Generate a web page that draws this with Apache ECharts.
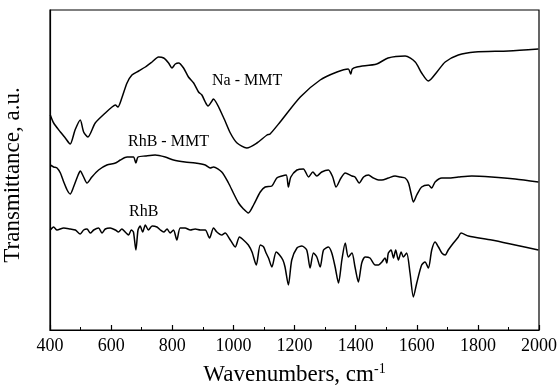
<!DOCTYPE html>
<html>
<head>
<meta charset="utf-8">
<script src="https://cdn.jsdelivr.net/npm/echarts@6/dist/echarts.min.js"></script>
<style>
  html, body { margin: 0; padding: 0; background: #fff; }
  #chart { width: 558px; height: 386px; }
</style>
</head>
<body>
<div id="chart"></div>
<script>
// wavenumber ticks
const xTicks = [400, 600, 800, 1000, 1200, 1400, 1600, 1800, 2000];

// Na - MMT (wavenumber, transmittance a.u.)
const naWn = [401, 412, 434, 450, 466, 482, 499, 510, 524, 548, 581, 603, 614, 622, 635, 652, 668, 690, 712, 734, 755, 772, 788, 799, 810, 821, 837, 853, 870, 886, 897, 908, 917, 930, 934, 967, 990, 1012, 1044, 1077, 1110, 1120, 1153, 1219, 1284, 1339, 1376, 1384, 1389, 1404, 1469, 1506, 1562, 1595, 1616, 1638, 1666, 1693, 1736, 1791, 1900, 1998];
const naT = [215, 207, 198, 192, 186, 200, 210, 198, 193, 207, 217, 223, 225, 223, 232, 247, 255, 259, 263, 268, 273, 272, 267, 262, 266, 267, 262, 253, 247, 238, 235, 228, 224, 229, 231, 213, 197, 187, 182, 187, 195, 196, 208, 233, 250, 258, 261, 256, 261, 263, 266, 272, 274, 268, 257, 249, 258, 268, 275, 278, 279, 281];

// RhB - MMT
const rmWn = [401, 412, 423, 434, 445, 456, 466, 477, 492, 499, 510, 521, 537, 559, 586, 614, 630, 652, 673, 681, 688, 712, 744, 777, 804, 842, 875, 908, 924, 935, 962, 984, 1000, 1017, 1033, 1049, 1066, 1088, 1104, 1126, 1142, 1159, 1173, 1180, 1188, 1208, 1229, 1246, 1260, 1273, 1289, 1311, 1325, 1336, 1352, 1366, 1388, 1398, 1412, 1426, 1442, 1458, 1475, 1486, 1507, 1529, 1546, 1562, 1573, 1581, 1589, 1600, 1616, 1638, 1649, 1660, 1682, 1703, 1736, 1780, 1845, 1922, 1998];
const rmT = [165, 163, 162, 157, 148, 140, 136, 143, 155, 159, 153, 147, 153, 160, 165, 167, 170, 173, 173, 167, 173, 174, 175, 173, 170, 168, 167, 165, 162, 163, 158, 147, 137, 127, 121, 117, 125, 138, 143, 144, 152, 154, 155, 143, 153, 160, 161, 153, 158, 154, 158, 160, 153, 143, 152, 157, 154, 153, 147, 153, 155, 152, 150, 150, 152, 154, 153, 152, 147, 137, 128, 135, 143, 145, 142, 148, 152, 152, 153, 154, 153, 151, 148];

// RhB
const rhWn = [401, 412, 423, 445, 466, 483, 499, 510, 521, 532, 543, 559, 570, 581, 597, 614, 624, 635, 646, 657, 666, 673, 681, 688, 695, 703, 712, 722, 734, 750, 761, 772, 783, 793, 804, 815, 826, 842, 859, 875, 892, 908, 922, 935, 946, 962, 973, 990, 1006, 1020, 1033, 1049, 1061, 1075, 1088, 1099, 1107, 1115, 1126, 1140, 1151, 1162, 1169, 1180, 1191, 1208, 1224, 1240, 1251, 1262, 1273, 1284, 1295, 1311, 1322, 1333, 1344, 1355, 1366, 1376, 1388, 1398, 1409, 1420, 1431, 1447, 1464, 1475, 1486, 1496, 1502, 1507, 1516, 1524, 1531, 1540, 1549, 1556, 1567, 1578, 1589, 1600, 1616, 1627, 1638, 1649, 1660, 1671, 1682, 1693, 1703, 1720, 1736, 1745, 1769, 1845, 1922, 1998];
const rhT = [100, 103, 100, 102, 101, 100, 96, 100, 101, 97, 100, 102, 97, 101, 102, 100, 98, 101, 98, 95, 100, 98, 80, 100, 104, 98, 105, 100, 104, 103, 100, 98, 101, 97, 100, 90, 102, 102, 100, 101, 100, 100, 92, 102, 98, 95, 97, 90, 83, 93, 90, 85, 78, 65, 85, 83, 77, 72, 63, 78, 75, 70, 63, 45, 70, 82, 84, 80, 62, 77, 73, 63, 80, 83, 77, 63, 47, 70, 87, 73, 77, 63, 48, 67, 73, 72, 65, 65, 68, 72, 67, 77, 80, 72, 80, 70, 78, 73, 77, 57, 33, 47, 65, 68, 62, 80, 88, 83, 77, 75, 80, 87, 93, 97, 94, 90, 85, 80];

const zip = (xs, ys) => xs.map((x, i) => [x, ys[i]]);

const chart = echarts.init(document.getElementById('chart'));
const serif = 'Liberation Serif';

const line = (name, xs, ys) => ({
  name: name,
  type: 'line',
  data: zip(xs, ys),
  showSymbol: false,
  symbol: 'none',
  smooth: 0.25,
  lineStyle: { color: '#000', width: 1.5 },
  animation: false
});

const option = {
  animation: false,
  grid: {
    left: 50, right: 19, top: 10, bottom: 56,
    containLabel: false,
    outerBoundsMode: 'none',
    show: true, borderColor: '#000', borderWidth: 1.2,
    backgroundColor: 'transparent'
  },
  xAxis: {
    type: 'value',
    min: 400, max: 2000, interval: 200,
    name: 'Wavenumbers, cm{sup|-1}',
    nameLocation: 'middle',
    nameGap: 32,
    nameTextStyle: {
      fontFamily: serif, fontSize: 23, color: '#000',
      rich: { sup: { fontFamily: serif, fontSize: 14, color: '#000', verticalAlign: 'top', padding: [0, 0, 12, 0] } }
    },
    axisLine: { show: true, lineStyle: { color: '#000', width: 1.2 } },
    axisTick: { show: true, inside: true, length: 5, lineStyle: { color: '#000', width: 1.2 } },
    minorTick: { show: true, splitNumber: 2, length: 3, lineStyle: { color: '#000', width: 1 } },
    axisLabel: {
      fontFamily: serif, fontSize: 18, color: '#000', margin: 7,
      formatter: v => xTicks.includes(v) ? String(v) : ''
    },
    splitLine: { show: false }
  },
  yAxis: {
    type: 'value',
    min: 0, max: 320,
    name: 'Transmittance, a.u.',
    nameLocation: 'middle',
    nameGap: 26,
    nameRotate: 90,
    nameTextStyle: { fontFamily: serif, fontSize: 23, color: '#000', padding: [0, 10, 0, 0] },
    axisLine: { show: true, lineStyle: { color: '#000', width: 1.2 } },
    axisTick: { show: false },
    axisLabel: { show: false },
    splitLine: { show: false }
  },
  series: [
    line('Na - MMT', naWn, naT),
    line('RhB - MMT', rmWn, rmT),
    line('RhB', rhWn, rhT)
  ],
  graphic: [
    { type: 'text', x: 212, y: 80.5, style: { text: 'Na - MMT', font: '16px "Liberation Serif"', fill: '#000', verticalAlign: 'middle' } },
    { type: 'text', x: 128, y: 142, style: { text: 'RhB - MMT', font: '16px "Liberation Serif"', fill: '#000', verticalAlign: 'middle' } },
    { type: 'text', x: 129, y: 212, style: { text: 'RhB', font: '16px "Liberation Serif"', fill: '#000', verticalAlign: 'middle' } }
  ]
};

chart.setOption(option);
</script>
</body>
</html>
